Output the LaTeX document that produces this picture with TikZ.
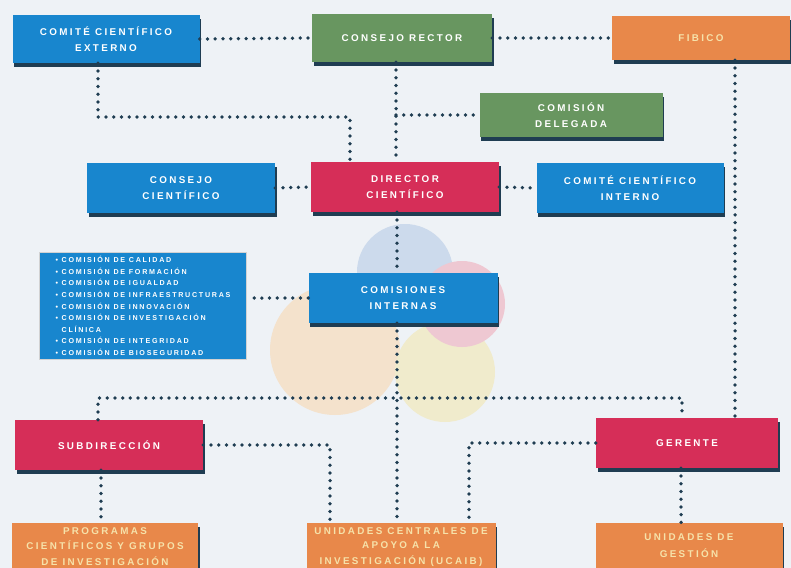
\documentclass[tikz,border=0pt]{standalone}
\usepackage{fontspec}
\usetikzlibrary{calc,shadows}
\newfontfamily\boxfont[LetterSpace=24]{Liberation Sans}
\definecolor{bgc}{RGB}{238,242,246}
\definecolor{navy}{RGB}{31,61,82}
\definecolor{bluec}{RGB}{24,134,206}
\definecolor{greenc}{RGB}{104,150,96}
\definecolor{orangec}{RGB}{232,136,74}
\definecolor{redc}{RGB}{214,46,88}
\definecolor{creamc}{RGB}{246,226,170}
\definecolor{logoblue}{RGB}{204,218,236}
\definecolor{logored}{RGB}{238,200,210}
\definecolor{logopeach}{RGB}{244,226,204}
\definecolor{logoyellow}{RGB}{240,235,204}

\tikzset{
  box/.style 2 args={text=white, align=center, inner sep=0pt,
    minimum width=#1*0.03cm, minimum height=#2*0.03cm,
    font=\boxfont\bfseries\fontsize{8.4}{13.5}\selectfont,
    drop shadow={shadow xshift=1.6pt, shadow yshift=-3.6pt, fill=navy, opacity=1}},
  listbox/.style={fill=bluec, text=white, align=left, inner sep=0pt,
    draw=gray!35, minimum width=207*0.03cm, minimum height=107*0.03cm,
    font=\boxfont\bfseries\fontsize{6.1}{9.9}\selectfont},
  dots/.style={navy, line width=3.2pt, line cap=round, dash pattern=on 0pt off 6.6pt}
}

\begin{document}
\begin{tikzpicture}[x=0.03cm, y=-0.03cm]
    \clip (0,0) rectangle (791,568);
    \fill[bgc] (0,0) rectangle (791,568);
    % faint logo behind the chart
    \fill[logopeach] (335,350) circle (65);
    \fill[logoyellow] (445,372) circle (50);
    \fill[logoblue] (405,272) circle (48);
    \fill[logored] (462,304) circle (43);

    \node[box={187}{48}, fill=bluec] (ext) at (106,39) {COMITÉ CIENTÍFICO\\EXTERNO};
    \node[box={180}{48}, fill=greenc] (rector) at (402,38) {CONSEJO RECTOR};
    \node[box={178}{44}, fill=orangec, text=creamc] (fibico) at (701,38) {FIBICO};
    \node[box={183}{44}, fill=greenc] (deleg) at (571,115) {COMISIÓN\\DELEGADA};
    \node[box={188}{50}, fill=bluec] (ccient) at (181,188) {CONSEJO\\CIENTÍFICO};
    \node[box={188}{50}, fill=redc] (dir) at (405,187) {DIRECTOR\\CIENTÍFICO};
    \node[box={187}{50}, fill=bluec] (cint) at (630,188) {COMITÉ CIENTÍFICO\\INTERNO};
    \node[listbox] (list) at (143,306) {\textbullet\ COMISIÓN DE CALIDAD\\
      \textbullet\ COMISIÓN DE FORMACIÓN\\
      \textbullet\ COMISIÓN DE IGUALDAD\\
      \textbullet\ COMISIÓN DE INFRAESTRUCTURAS\\
      \textbullet\ COMISIÓN DE INNOVACIÓN\\
      \textbullet\ COMISIÓN DE INVESTIGACIÓN\\
      \hphantom{\textbullet\ }CLÍNICA\\
      \textbullet\ COMISIÓN DE INTEGRIDAD\\
      \textbullet\ COMISIÓN DE BIOSEGURIDAD};
    \node[box={189}{50}, fill=bluec] (cominternas) at (403,298) {COMISIONES\\INTERNAS};
    \node[box={188}{50}, fill=redc] (subdir) at (109,445) {SUBDIRECCIÓN};
    \node[box={182}{50}, fill=redc] (gerente) at (687,443) {GERENTE};
    \node[box={186}{50}, fill=orangec, text=creamc] (prog) at (105,548) {\raisebox{3pt}{\shortstack{PROGRAMAS\\[2.8pt]CIENTÍFICOS Y GRUPOS\\[2.8pt]DE INVESTIGACIÓN}}};
    \node[box={189}{50}, fill=orangec, text=creamc] (ucaib) at (401,548) {\raisebox{3pt}{\shortstack{UNIDADES CENTRALES DE\\[2.8pt]APOYO A LA\\[2.8pt]INVESTIGACIÓN (UCAIB)}}};
    \node[box={187}{50}, fill=orangec, text=creamc] (gest) at (689,548) {\raisebox{4pt}{\shortstack{UNIDADES DE\\[3.5pt]GESTIÓN}}};

    \coordinate (jext) at (350,117);
    \coordinate (jdel) at (396,115);
    \coordinate (jbar) at (682,398);

    \draw[dots] (ext.east) -- (rector.west);
    \draw[dots] (rector.east) -- (fibico.west);
    \draw[dots] ($(ext.south)+(-8,0)$) |- (jext) -- ($(dir.north)+(-55,0)$);
    \draw[dots] ($(rector.south)+(-6,0)$) -- ($(dir.north)+(-9,0)$);
    \draw[dots] (jdel) -- (deleg.west);
    \draw[dots] ($(fibico.south)+(34,0)$) -- ($(gerente.north)+(48,0)$);
    \draw[dots] (ccient.east) -- (dir.west);
    \draw[dots] (dir.east) -- (cint.west);
    \draw[dots] ($(dir.south)+(-8,0)$) -- ($(cominternas.north)+(-6,0)$);
    \draw[dots] (cominternas.west) -- (cominternas.west -| list.east);
    \draw[dots] ($(cominternas.south)+(-6,0)$) -- ($(ucaib.north)+(-4,0)$);
    \draw[dots] ($(subdir.north)+(-11,0)$) |- (jbar) -- ($(gerente.north)+(-5,0)$);
    \draw[dots] (subdir.east) -| ($(ucaib.north)+(-71,0)$);
    \draw[dots] (gerente.west) -| ($(ucaib.north)+(68,0)$);
    \draw[dots] ($(subdir.south)+(-8,0)$) -- ($(prog.north)+(-4,0)$);
    \draw[dots] ($(gerente.south)+(-6,0)$) -- ($(gest.north)+(-8,0)$);
\end{tikzpicture}
\end{document}
